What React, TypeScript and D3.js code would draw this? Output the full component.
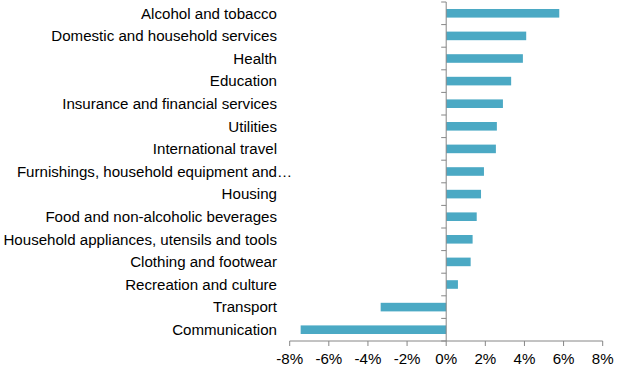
import React, { useEffect, useRef } from "react";
import * as d3 from "d3";

const width = 620;
const height = 385;

// categories, top to bottom
const categories = [
  "Alcohol and tobacco",
  "Domestic and household services",
  "Health",
  "Education",
  "Insurance and financial services",
  "Utilities",
  "International travel",
  "Furnishings, household equipment and…",
  "Housing",
  "Food and non-alcoholic beverages",
  "Household appliances, utensils and tools",
  "Clothing and footwear",
  "Recreation and culture",
  "Transport",
  "Communication",
];

// percent change
const values = [5.78, 4.09, 3.92, 3.32, 2.9, 2.59, 2.54, 1.93, 1.78, 1.56, 1.35, 1.25, 0.6, -3.35, -7.44];

const xTicks = [-8, -6, -4, -2, 0, 2, 4, 6, 8];

const App: React.FC = () => {
  const svgRef = useRef<SVGSVGElement | null>(null);

  useEffect(() => {
    if (!svgRef.current) return;
    const svg = d3.select(svgRef.current);
    svg.selectAll("*").remove();

    const x = d3.scaleLinear().domain([-8, 8]).range([289.7, 602.7]);
    const y = d3.scaleBand().domain(categories).range([2, 341]).paddingInner(0.62).paddingOuter(0.31);

    const axisColor = "#868686";
    const font = "'Liberation Sans', Arial, sans-serif";
    const fs = 15.1;

    // bars
    svg
      .append("g")
      .selectAll("rect")
      .data(values)
      .enter()
      .append("rect")
      .attr("x", (d) => x(Math.min(0, d)))
      .attr("width", (d) => Math.abs(x(d) - x(0)))
      .attr("y", (_, i) => y(categories[i])!)
      .attr("height", y.bandwidth())
      .attr("fill", "#4BA9C4");

    // x axis
    const xAxis = svg.append("g").attr("transform", "translate(0,341)");
    xAxis.append("line").attr("x1", x(-8)).attr("x2", x(8)).attr("stroke", axisColor);
    xAxis
      .selectAll("line.tick")
      .data(xTicks)
      .enter()
      .append("line")
      .attr("class", "tick")
      .attr("x1", (d) => x(d))
      .attr("x2", (d) => x(d))
      .attr("y1", 0)
      .attr("y2", 5)
      .attr("stroke", axisColor);
    xAxis
      .selectAll("text")
      .data(xTicks)
      .enter()
      .append("text")
      .attr("x", (d) => x(d))
      .attr("y", 23)
      .attr("text-anchor", "middle")
      .attr("font-family", font)
      .attr("font-size", fs)
      .attr("fill", "#000")
      .text((d) => `${d}%`);

    // y axis at zero, ticks on category boundaries
    const bounds = d3.range(categories.length + 1).map((i) => 2 + i * (339 / categories.length));
    const yAxis = svg.append("g");
    yAxis.append("line").attr("x1", x(0)).attr("x2", x(0)).attr("y1", 2).attr("y2", 341).attr("stroke", axisColor);
    yAxis
      .selectAll("line.tick")
      .data(bounds)
      .enter()
      .append("line")
      .attr("class", "tick")
      .attr("x1", x(0) - 5)
      .attr("x2", x(0))
      .attr("y1", (d) => d)
      .attr("y2", (d) => d)
      .attr("stroke", axisColor);

    // category labels (a trailing ellipsis hangs past the right edge, like Excel)
    const labels = svg.append("g").selectAll("g").data(categories).enter().append("g");
    labels
      .append("text")
      .attr("x", 277)
      .attr("y", (d) => y(d)! + y.bandwidth() / 2)
      .attr("dy", "0.35em")
      .attr("text-anchor", "end")
      .attr("font-family", font)
      .attr("font-size", fs)
      .attr("fill", "#000")
      .text((d) => d.replace(/…$/, ""));
    labels
      .filter((d) => d.endsWith("…"))
      .append("text")
      .attr("x", 277)
      .attr("y", (d) => y(d)! + y.bandwidth() / 2)
      .attr("dy", "0.35em")
      .attr("font-family", font)
      .attr("font-size", fs)
      .attr("letter-spacing", -1)
      .attr("fill", "#000")
      .text("…");
  }, []);

  return (
    <svg
      ref={svgRef}
      width={width}
      height={height}
      style={{ position: "absolute", left: 0, top: 0, background: "#fff" }}
    />
  );
};

export default App;
